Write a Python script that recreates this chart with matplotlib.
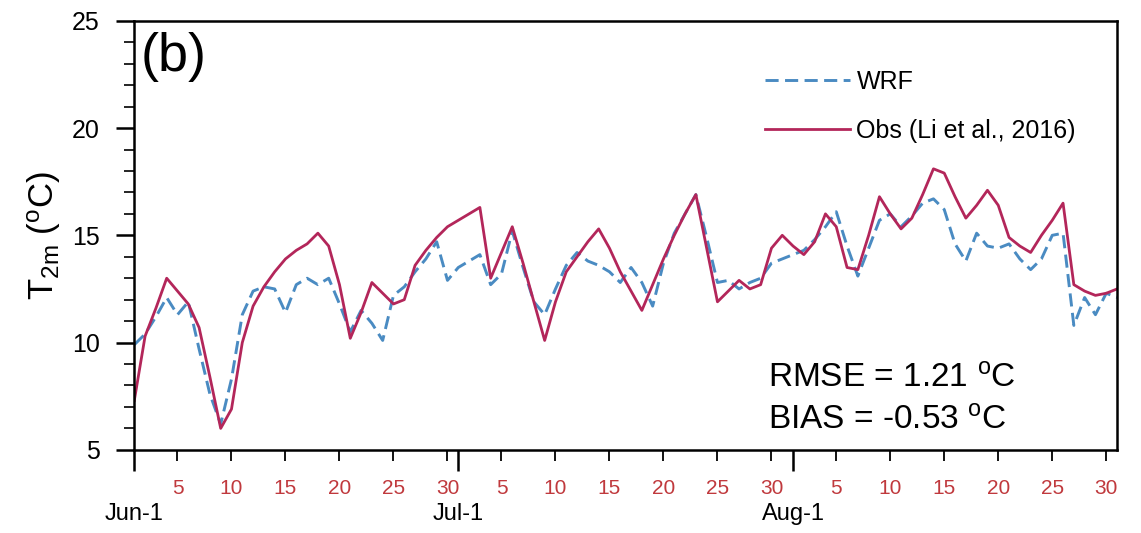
import numpy as np
import matplotlib
matplotlib.use("Agg")
import matplotlib.pyplot as plt
from matplotlib.ticker import FixedLocator, FixedFormatter, MultipleLocator

plt.rcParams.update({
    "font.family": ["Liberation Sans", "DejaVu Sans"],
    "mathtext.fontset": "custom",
    "mathtext.rm": "Liberation Sans",
    "mathtext.it": "Liberation Sans",
    "mathtext.bf": "Liberation Sans:bold",
})

# ---- data: daily 2 m temperature, Jun 1 .. Aug 31 ----
months = ["Jun", "Jul", "Aug"]
month_days = [30, 31, 31]
day_labels = [5, 10, 15, 20, 25, 30]

wrf = [9.9, 10.4, 11.2, 12.1, 11.3, 11.9, 9.7, 7.6, 6.2, 8.3,
       11.3, 12.4, 12.6, 12.5, 11.4, 12.7, 13.0, 12.7, 13.0, 11.8,
       10.5, 11.5, 10.9, 10.1, 12.2, 12.6, 13.3, 13.9, 14.7, 12.9,
       13.5, 13.8, 14.1, 12.7, 13.2, 15.2, 13.5, 11.9, 11.3, 12.5,
       13.6, 14.2, 13.8, 13.6, 13.3, 12.8, 13.5, 12.8, 11.7, 13.7,
       15.1, 16.0, 16.9, 14.9, 12.8, 12.9, 12.5, 12.8, 13.0, 13.7,
       13.9, 14.1, 14.3, 14.8, 15.4, 16.1, 14.5, 13.1, 14.4, 15.7,
       16.0, 15.4, 15.9, 16.5, 16.7, 16.2, 14.6, 13.8, 15.1, 14.5,
       14.4, 14.6, 13.9, 13.4, 13.9, 15.0, 15.1, 10.8, 12.1, 11.3,
       12.3, 12.1]

obs = [7.3, 10.3, 11.6, 13.0, 12.4, 11.8, 10.7, 8.4, 6.0, 6.9,
       10.0, 11.7, 12.6, 13.3, 13.9, 14.3, 14.6, 15.1, 14.5, 12.7,
       10.2, 11.4, 12.8, 12.3, 11.8, 12.0, 13.6, 14.3, 14.9, 15.4,
       15.7, 16.0, 16.3, 13.0, 14.2, 15.4, 13.7, 11.9, 10.1, 11.9,
       13.3, 14.0, 14.7, 15.3, 14.4, 13.3, 12.4, 11.5, 12.7, 13.9,
       15.0, 16.0, 16.9, 14.4, 11.9, 12.4, 12.9, 12.5, 12.7, 14.4,
       15.0, 14.5, 14.1, 14.7, 16.0, 15.4, 13.5, 13.4, 15.0, 16.8,
       16.0, 15.3, 15.8, 16.9, 18.1, 17.9, 16.8, 15.8, 16.4, 17.1,
       16.4, 14.9, 14.5, 14.2, 15.0, 15.7, 16.5, 12.7, 12.4, 12.2,
       12.3, 12.5]

rmse = 1.21
bias = -0.53

WRF_C = "#4a8bc2"
OBS_C = "#b3265a"
DAY_C = "#c0393d"

days = np.arange(len(obs))
month_start = np.concatenate([[0], np.cumsum(month_days)[:-1]])
major_pos = list(month_start)
major_lab = [f"{m}-1" for m in months]
minor_pos, minor_lab = [], []
for s, n in zip(month_start, month_days):
    for d in day_labels:
        if d <= n:
            minor_pos.append(s + d - 1)
            minor_lab.append(str(d))

fig = plt.figure(figsize=(11.41, 5.33), dpi=100)
ax = fig.add_axes([0.1177, 0.156, 0.8613, 0.805])

ax.plot(days, wrf, color=WRF_C, lw=2.1, dashes=(4.5, 2.2), label="WRF")
ax.plot(days, obs, color=OBS_C, lw=2.0, label="Obs (Li et al., 2016)")

ax.set_xlim(0, len(obs) - 1)
ax.set_ylim(5, 25)

ax.xaxis.set_major_locator(FixedLocator(major_pos))
ax.xaxis.set_major_formatter(FixedFormatter(major_lab))
ax.xaxis.set_minor_locator(FixedLocator(minor_pos))
ax.xaxis.set_minor_formatter(FixedFormatter(minor_lab))
ax.yaxis.set_major_locator(MultipleLocator(5))
ax.yaxis.set_minor_locator(MultipleLocator(1))

ax.tick_params(axis="x", which="major", direction="out", length=15, width=1.8,
               labelsize=17, pad=23)
ax.tick_params(axis="x", which="minor", direction="out", length=8, width=1.3,
               labelsize=15, pad=13, labelcolor=DAY_C)
ax.tick_params(axis="y", which="major", direction="out", length=13, width=1.8,
               labelsize=18, pad=12)
ax.tick_params(axis="y", which="minor", direction="out", length=7, width=1.2)
for sp in ax.spines.values():
    sp.set_linewidth(1.8)

ax.set_ylabel(r"T$_{\mathrm{2m}}$ ($^{\mathrm{o}}$C)", fontsize=25)
ax.yaxis.set_label_coords(-0.073, 0.5)

ax.text(0.006, 0.975, "(b)", transform=ax.transAxes, fontsize=39,
        ha="left", va="top")
ax.text(0.645, 0.144, rf"RMSE = {rmse:.2f} $^{{\mathrm{{o}}}}$C",
        transform=ax.transAxes, fontsize=24, ha="left", va="baseline")
ax.text(0.645, 0.047, rf"BIAS = {bias:.2f} $^{{\mathrm{{o}}}}$C",
        transform=ax.transAxes, fontsize=24, ha="left", va="baseline")

ax.legend(loc="upper left", bbox_to_anchor=(0.642, 0.885), frameon=False,
          fontsize=18, handlelength=3.4, handletextpad=0.25,
          labelspacing=1.0, borderpad=0, borderaxespad=0)

fig.savefig("out.png", dpi=100)
